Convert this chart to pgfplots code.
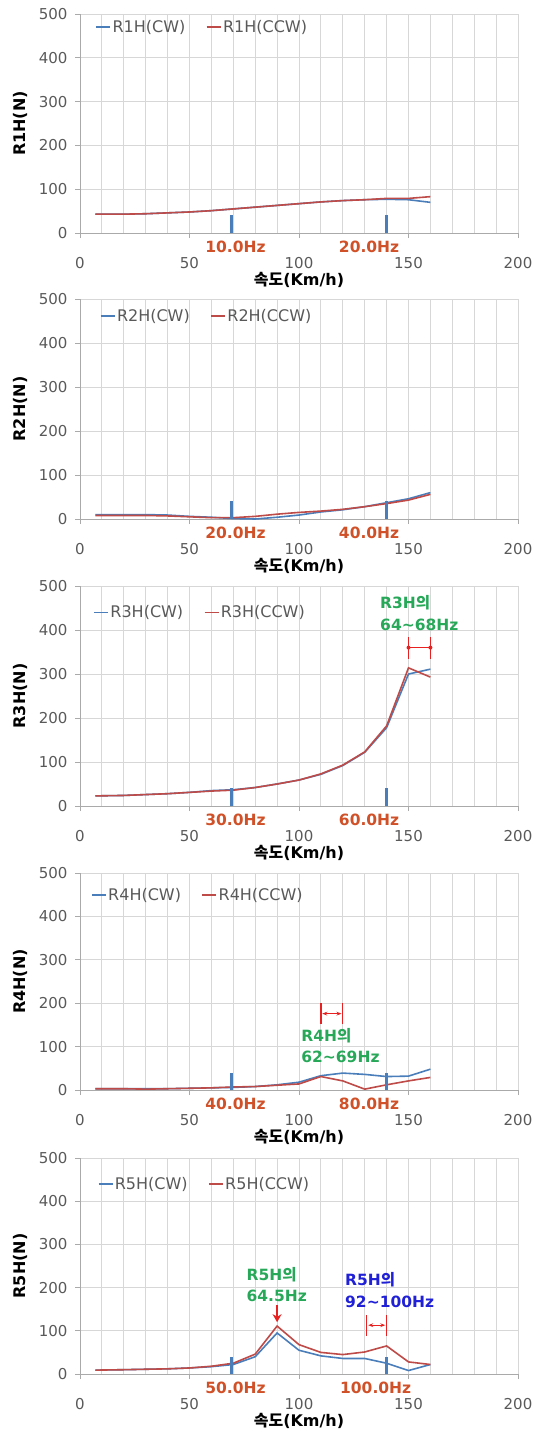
\documentclass[border=0pt]{standalone}
\usepackage{fontspec}
\setmainfont{DejaVu Sans}
\newfontfamily\kr{Noto Sans CJK KR}
\usepackage{pgfplots}
\pgfplotsset{compat=1.18}
\usetikzlibrary{arrows.meta}

\definecolor{cwblue}{RGB}{74,126,187}
\definecolor{ccwred}{RGB}{190,75,72}
\definecolor{hzred}{RGB}{208,80,40}
\definecolor{anngreen}{RGB}{38,168,88}
\definecolor{annblue}{RGB}{32,32,215}
\definecolor{annred}{RGB}{232,32,32}
\definecolor{gridgray}{RGB}{215,215,215}
\definecolor{axgray}{RGB}{170,170,170}
\definecolor{txtgray}{RGB}{89,89,89}

\pgfplotsset{
  panel/.style n args={4}{% bottom px, height px, legend x, legend y
    at={(80pt,-#1pt)}, anchor=south west,
    scale only axis, width=438pt, height=#2pt,
    xmin=0, xmax=200, ymin=0, ymax=500,
    xtick={0,50,...,200}, ytick={0,100,...,500},
    minor x tick num=4,
    xmajorgrids, xminorgrids, ymajorgrids,
    grid style={gridgray, line width=0.9pt},
    minor grid style={gridgray, line width=0.9pt},
    axis lines*=left,
    axis line style={axgray, line width=0.9pt},
    tick align=outside, major tick length=5pt, minor tick length=0pt,
    tick style={axgray, line width=0.9pt},
    xtick pos=bottom, ytick pos=left,
    /pgf/number format/assume math mode=true,
    tick label style={font=\fontsize{15}{18}\selectfont, text=txtgray},
    xticklabel style={yshift=-16pt},
    yticklabel style={xshift=-4pt},
    xlabel={\bfseries{\kr 속도}(Km/h)},
    xlabel style={at={(axis description cs:0.5,-0.215)}, anchor=center,
      font=\fontsize{16}{19}\selectfont},
    ylabel style={at={(axis description cs:-0.137,0.5)}, anchor=center,
      font=\fontsize{16}{19}\selectfont\bfseries},
    clip=false,
    legend columns=2,
    legend style={at={(axis cs:#3,#4)}, anchor=west, draw=none, fill=none,
      font=\fontsize{16}{19}\selectfont, text=txtgray, inner sep=0pt,
      nodes={inner sep=1.5pt},
      /tikz/every even column/.append style={column sep=19pt}},
    legend image code/.code={\draw[##1, line width=1.6pt] (0pt,0pt) -- (14pt,0pt);},
  },
  cw/.style={cwblue, line width=1.6pt},
  ccw/.style={ccwred, line width=1.6pt},
  mk/.style={cwblue, line width=3.2pt, forget plot},
}
\tikzset{
  hz/.style={text=hzred, font=\fontsize{15.5}{18}\selectfont\bfseries},
  ann/.style={font=\fontsize{15.5}{18}\selectfont\bfseries, anchor=west, inner sep=0pt},
}

\begin{document}
\begin{tikzpicture}
\useasboundingbox (0pt,0pt) rectangle (545pt,-1438pt);

% ---- R1H
\begin{axis}[panel={233}{219}{7}{470}, ylabel={R1H(N)}]
\addplot[cw] coordinates {(7,43)(20,43)(30,44)(40,46)(50,48)(60,51)(70,55)(80,59)(90,63)(100,67)(110,71)(120,74)(130,76)(140,77)(150,76)(160,70)};
\addplot[ccw] coordinates {(7,43)(20,43)(30,44)(40,46)(50,48)(60,51)(70,55)(80,59)(90,63)(100,67)(110,71)(120,74)(130,76)(140,79)(150,79)(160,83)};
\legend{R1H(CW),R1H(CCW)}
\addplot[mk] coordinates {(69,0)(69,40)};
\addplot[mk] coordinates {(140,0)(140,40)};
\node[hz] at (axis cs:71,-31) {10.0Hz};
\node[hz] at (axis cs:132,-31) {20.0Hz};
\end{axis}

% ---- R2H
\begin{axis}[panel={519}{220}{9}{462}, ylabel={R2H(N)}]
\addplot[cw] coordinates {(7,10)(20,10)(30,10)(40,9)(50,6)(60,4)(70,1)(80,0)(90,4)(100,9)(110,16)(120,21)(130,28)(140,37)(150,46)(160,60)};
\addplot[ccw] coordinates {(7,8)(20,8)(30,8)(40,7)(50,5)(60,3)(70,3)(80,6)(90,11)(100,15)(110,18)(120,22)(130,28)(140,35)(150,43)(160,56)};
\legend{R2H(CW),R2H(CCW)}
\addplot[mk] coordinates {(69,0)(69,42)};
\addplot[mk] coordinates {(140,0)(140,42)};
\node[hz] at (axis cs:71,-31) {20.0Hz};
\node[hz] at (axis cs:132,-31) {40.0Hz};
\end{axis}

% ---- R3H
\begin{axis}[panel={806}{220}{6}{440}, ylabel={R3H(N)}]
\addplot[cw] coordinates {(7,23)(20,24)(30,26)(40,28)(50,31)(60,35)(70,37)(80,42)(90,50)(100,59)(110,72)(120,92)(130,122)(140,178)(150,300)(160,311)};
\addplot[ccw] coordinates {(7,23)(20,24)(30,26)(40,28)(50,31)(60,34)(70,36)(80,42)(90,50)(100,59)(110,73)(120,93)(130,123)(140,182)(150,314)(160,293)};
\legend{R3H(CW),R3H(CCW)}
\addplot[mk] coordinates {(69,0)(69,40)};
\addplot[mk] coordinates {(140,0)(140,40)};
\node[hz] at (axis cs:71,-31) {30.0Hz};
\node[hz] at (axis cs:132,-31) {60.0Hz};
\node[ann, text=anngreen] at (axis cs:137,463) {R3H{\kr 의}};
\node[ann, text=anngreen] at (axis cs:137,411) {64\textasciitilde68Hz};
\draw[annred, line width=1.4pt] (axis cs:150,360) -- (axis cs:160,360);
\draw[annred, line width=1.4pt] (axis cs:150,335) -- (axis cs:150,385);
\draw[annred, line width=1.4pt] (axis cs:160,335) -- (axis cs:160,385);
\fill[annred] (axis cs:150,360) circle (2pt) (axis cs:160,360) circle (2pt);
\end{axis}

% ---- R4H
\begin{axis}[panel={1090}{217}{5}{450}, ylabel={R4H(N)}]
\addplot[cw] coordinates {(7,3)(20,3)(30,3)(40,3)(50,4)(60,5)(70,6)(80,8)(90,12)(100,18)(110,33)(120,39)(130,36)(140,31)(150,32)(160,48)};
\addplot[ccw] coordinates {(7,3)(20,3)(30,2)(40,3)(50,4)(60,5)(70,7)(80,8)(90,11)(100,14)(110,31)(120,21)(130,2)(140,12)(150,21)(160,29)};
\legend{R4H(CW),R4H(CCW)}
\addplot[mk] coordinates {(69,0)(69,40)};
\addplot[mk] coordinates {(140,0)(140,40)};
\node[hz] at (axis cs:71,-31) {40.0Hz};
\node[hz] at (axis cs:132,-31) {80.0Hz};
\node[ann, text=anngreen] at (axis cs:101,126) {R4H{\kr 의}};
\node[ann, text=anngreen] at (axis cs:101,76) {62\textasciitilde69Hz};
\draw[annred, line width=1.2pt, {Stealth[length=5pt]}-{Stealth[length=5pt]}] (axis cs:110.6,176) -- (axis cs:119.4,176);
\draw[annred, line width=1.2pt] (axis cs:110,152) -- (axis cs:110,200);
\draw[annred, line width=1.2pt] (axis cs:120,152) -- (axis cs:120,200);
\end{axis}

% ---- R5H
\begin{axis}[panel={1374}{216}{8}{440}, ylabel={R5H(N)}]
\addplot[cw] coordinates {(7,9)(20,10)(30,11)(40,12)(50,14)(60,17)(70,22)(80,40)(90,95)(100,55)(110,42)(120,36)(130,36)(140,25)(150,8)(160,22)};
\addplot[ccw] coordinates {(7,9)(20,10)(30,11)(40,12)(50,14)(60,18)(70,25)(80,46)(90,111)(100,68)(110,50)(120,45)(130,51)(140,65)(150,28)(160,22)};
\legend{R5H(CW),R5H(CCW)}
\addplot[mk] coordinates {(69,0)(69,40)};
\addplot[mk] coordinates {(140,0)(140,40)};
\node[hz] at (axis cs:71,-33) {50.0Hz};
\node[hz] at (axis cs:135,-33) {100.0Hz};
\node[ann, text=anngreen] at (axis cs:76,231) {R5H{\kr 의}};
\node[ann, text=anngreen] at (axis cs:76,180) {64.5Hz};
\draw[annred, line width=2pt, -{Stealth[length=8pt,width=9pt]}] (axis cs:90,160) -- (axis cs:90,120);
\node[ann, text=annblue] at (axis cs:121,219) {R5H{\kr 의}};
\node[ann, text=annblue] at (axis cs:121,168) {92\textasciitilde100Hz};
\draw[annred, line width=1.2pt, {Stealth[length=5pt]}-{Stealth[length=5pt]}] (axis cs:131.6,113) -- (axis cs:139.4,113);
\draw[annred, line width=1.2pt] (axis cs:131,89) -- (axis cs:131,137);
\draw[annred, line width=1.2pt] (axis cs:140,89) -- (axis cs:140,137);
\end{axis}
\end{tikzpicture}
\end{document}
